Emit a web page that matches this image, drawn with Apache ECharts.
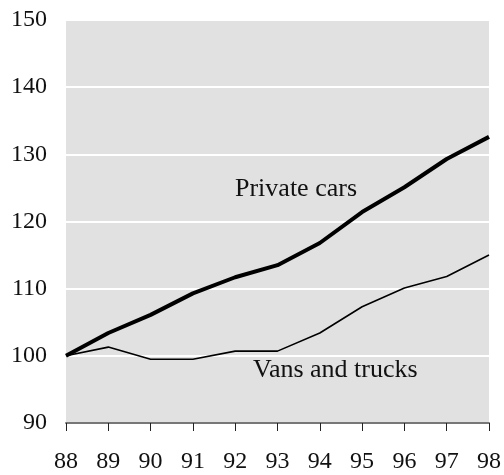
<!DOCTYPE html>
<html>
<head>
<meta charset="utf-8">
<script src="https://cdn.jsdelivr.net/npm/echarts@6/dist/echarts.min.js"></script>
<style>
html, body { margin: 0; padding: 0; background: #fff; }
#main { width: 504px; height: 475px; }
</style>
</head>
<body>
<div id="main"></div>
<script>
// 年份与指数 (1988 = 100)
var years = ['88', '89', '90', '91', '92', '93', '94', '95', '96', '97', '98'];
var privateCars = [100, 103.4, 106.1, 109.3, 111.7, 113.5, 116.8, 121.4, 125.1, 129.3, 132.6];
var vansTrucks = [100, 101.3, 99.5, 99.5, 100.7, 100.7, 103.4, 107.3, 110.1, 111.8, 115.0];

var font = 'Liberation Serif, Times New Roman, serif';

var myChart = echarts.init(document.getElementById('main'));

var option = {
	animation: false,
	grid: {
		left: 66,
		right: 15,
		top: 20,
		bottom: 52,
		show: true,
		backgroundColor: '#e1e1e1',
		borderWidth: 0
	},
	xAxis: {
		type: 'category',
		data: years,
		boundaryGap: false,
		axisLine: { lineStyle: { color: '#777', width: 2 } },
		axisTick: { length: 8, lineStyle: { color: '#222', width: 1 } },
		axisLabel: { color: '#111', fontFamily: font, fontSize: 24, margin: 27 },
		splitLine: { show: false }
	},
	yAxis: {
		type: 'value',
		min: 90,
		max: 150,
		interval: 10,
		axisLine: { show: false },
		axisTick: { show: false },
		axisLabel: { color: '#111', fontFamily: font, fontSize: 24, margin: 19 },
		splitLine: { lineStyle: { color: '#fff', width: 2 } }
	},
	graphic: [
		{ type: 'text', x: 235, y: 189, style: { text: 'Private cars', font: '26px ' + font, fill: '#111', verticalAlign: 'middle' } },
		{ type: 'text', x: 253, y: 370, style: { text: 'Vans and trucks', font: '26px ' + font, fill: '#111', verticalAlign: 'middle' } }
	],
	series: [
		{
			name: 'Private cars',
			type: 'line',
			data: privateCars,
			symbol: 'none',
			lineStyle: { color: '#000', width: 4 }
		},
		{
			name: 'Vans and trucks',
			type: 'line',
			data: vansTrucks,
			symbol: 'none',
			lineStyle: { color: '#000', width: 1.6 }
		}
	]
};

myChart.setOption(option);
</script>
</body>
</html>
